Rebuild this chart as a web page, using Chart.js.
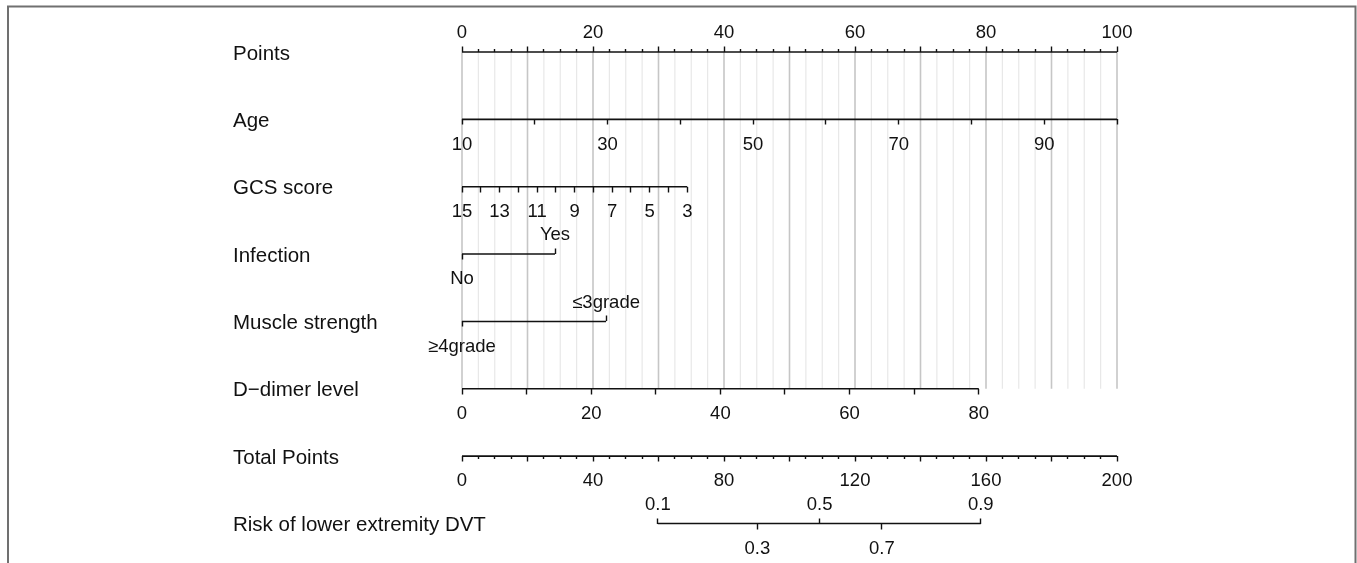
<!DOCTYPE html>
<html>
<head>
<meta charset="utf-8">
<script src="https://cdn.jsdelivr.net/npm/chart.js@4.4.1/dist/chart.umd.min.js"></script>
<style>
  html, body { margin: 0; padding: 0; background: #ffffff; }
  canvas { display: block; }
</style>
</head>
<body>
<canvas id="c" width="1357" height="563"></canvas>
<script>
// ---------------- data ----------------
const rowLabels = ['Points', 'Age', 'GCS score', 'Infection', 'Muscle strength',
                   'D\u2212dimer level', 'Total Points', 'Risk of lower extremity DVT'];

// Points (0-100)
const pointsMajorTicks = [0, 10, 20, 30, 40, 50, 60, 70, 80, 90, 100];
const pointsTickLabels = [0, 20, 40, 60, 80, 100];
const pointsMinorStep = 2.5;

// Age
const ageTicks = [10, 20, 30, 40, 50, 60, 70, 80, 90, 100];
const ageTickLabels = [10, 30, 50, 70, 90];
const ageEnds = [10, 100];
const agePointsEnds = [0, 100];

// GCS score
const gcsTicks = [15, 14, 13, 12, 11, 10, 9, 8, 7, 6, 5, 4, 3];
const gcsTickLabels = [15, 13, 11, 9, 7, 5, 3];
const gcsEnds = [15, 3];
const gcsPointsEnds = [0, 34.4];

// Infection
const infectionLevels = ['No', 'Yes'];
const infectionPoints = [0, 14.2];

// Muscle strength
const muscleLevels = ['\u22654grade', '\u22643grade'];
const musclePoints = [0, 22.0];

// D-dimer level
const ddimerTicks = [0, 10, 20, 30, 40, 50, 60, 70, 80];
const ddimerTickLabels = [0, 20, 40, 60, 80];
const ddimerEnds = [0, 80];
const ddimerPointsEnds = [0, 78.9];

// Total points
const totalMajorTicks = [0, 20, 40, 60, 80, 100, 120, 140, 160, 180, 200];
const totalTickLabels = [0, 40, 80, 120, 160, 200];
const totalMinorStep = 5;
const totalRange = [0, 200];

// Risk of lower extremity DVT (position read on the Total Points scale)
const riskValues = [0.1, 0.3, 0.5, 0.7, 0.9];
const riskTotalPoints = [59.8, 90.2, 109.2, 128.2, 158.4];

// ---------------- layout / style ----------------
const rowPos = [0, 1, 2, 3, 4, 5, 6, 7];
const INK = '#111111';
const FONT = "'Liberation Sans', Arial, Helvetica, sans-serif";
const TICK_FONT = { family: FONT, size: 18.5, lineHeight: 1 };
const LABEL_FONT = "20.5px 'Liberation Sans', Arial, Helvetica, sans-serif";
const LABEL_X = 233;
const LABEL_DY = 2;
const TL_MAJOR = 5.5, TL_MINOR = 3;
const PAD_DOWN = 10.5, PAD_UP = -22.75;

function spanFor(ends, pts) {
  const k = (pts[1] - pts[0]) / (ends[1] - ends[0]);
  const a = ends[0] + (0 - pts[0]) / k;
  const b = ends[0] + (100 - pts[0]) / k;
  return a < b ? { min: a, max: b, reverse: false } : { min: b, max: a, reverse: true };
}

function axis(row, span, tickValues, tickLength, pad, labelFn) {
  return {
    type: 'linear', axis: 'x',
    position: { y: rowPos[row] },
    min: span.min, max: span.max, reverse: !!span.reverse,
    bounds: 'data', offset: false,
    afterBuildTicks: (s) => { s.ticks = tickValues.map(v => ({ value: v })); },
    grid: { display: true, drawOnChartArea: false, drawTicks: true,
            tickLength: tickLength, tickColor: INK, tickWidth: 1.4, color: INK, z: 1 },
    border: { display: false },
    ticks: { display: true, autoSkip: false, maxRotation: 0, minRotation: 0,
             padding: pad, color: INK, font: TICK_FONT, z: 1,
             callback: labelFn || (() => '') }
  };
}

const pointsMinorTicks = [];
for (let v = 0; v <= 100; v += pointsMinorStep) if (v % 10 !== 0) pointsMinorTicks.push(v);
const totalMinorTicks = [];
for (let v = totalRange[0]; v <= totalRange[1]; v += totalMinorStep) if (v % 20 !== 0) totalMinorTicks.push(v);

const fullPoints = { min: 0, max: 100 };
const fullTotal = { min: totalRange[0], max: totalRange[1] };
const riskUpIdx = [0, 2, 4], riskDownIdx = [1, 3];

const scales = {
  x: { type: 'linear', min: 0, max: 100, display: false },
  y: { type: 'linear', min: 0, max: 7, reverse: true, display: false },
  xPoints: axis(0, fullPoints, pointsMajorTicks, -TL_MAJOR, PAD_UP,
                v => pointsTickLabels.includes(v) ? String(v) : ''),
  xPointsMinor: axis(0, fullPoints, pointsMinorTicks, -TL_MINOR, PAD_UP),
  xAge: axis(1, spanFor(ageEnds, agePointsEnds), ageTicks, TL_MAJOR, PAD_DOWN,
             v => ageTickLabels.includes(v) ? String(v) : ''),
  xGcs: axis(2, spanFor(gcsEnds, gcsPointsEnds), gcsTicks, TL_MAJOR, PAD_DOWN,
             v => gcsTickLabels.includes(v) ? String(v) : ''),
  xInfNo: axis(3, fullPoints, [infectionPoints[0]], TL_MAJOR, PAD_DOWN, () => infectionLevels[0]),
  xInfYes: axis(3, fullPoints, [infectionPoints[1]], -TL_MAJOR, PAD_UP, () => infectionLevels[1]),
  xMusLow: axis(4, fullPoints, [musclePoints[0]], TL_MAJOR, PAD_DOWN, () => muscleLevels[0]),
  xMusHigh: axis(4, fullPoints, [musclePoints[1]], -TL_MAJOR, PAD_UP, () => muscleLevels[1]),
  xDd: axis(5, spanFor(ddimerEnds, ddimerPointsEnds), ddimerTicks, TL_MAJOR, PAD_DOWN,
            v => ddimerTickLabels.includes(v) ? String(v) : ''),
  xTotal: axis(6, fullTotal, totalMajorTicks, TL_MAJOR, PAD_DOWN,
               v => totalTickLabels.includes(v) ? String(v) : ''),
  xTotalMinor: axis(6, fullTotal, totalMinorTicks, TL_MINOR, PAD_DOWN),
  xRiskUp: axis(7, fullTotal, riskUpIdx.map(i => riskTotalPoints[i]), -TL_MAJOR, PAD_UP,
                v => String(riskValues[riskTotalPoints.indexOf(v)])),
  xRiskDown: axis(7, fullTotal, riskDownIdx.map(i => riskTotalPoints[i]), TL_MAJOR, PAD_DOWN,
                  v => String(riskValues[riskTotalPoints.indexOf(v)]))
};

// ---------------- datasets ----------------
function seg(xAxisID, row, a, b, color, width, order) {
  return {
    xAxisID, yAxisID: 'y', order,
    data: [{ x: a, y: rowPos[row] }, { x: b, y: rowPos[row] }],
    borderColor: color, borderWidth: width, pointRadius: 0, pointHoverRadius: 0,
    fill: false, tension: 0, clip: false, borderCapStyle: 'butt'
  };
}
function vline(x, color, width) {
  return {
    xAxisID: 'x', yAxisID: 'y', order: 5,
    data: [{ x: x, y: rowPos[0] }, { x: x, y: rowPos[5] }],
    borderColor: color, borderWidth: width, pointRadius: 0, pointHoverRadius: 0,
    fill: false, tension: 0, clip: false, borderCapStyle: 'butt'
  };
}

const datasets = [];
const LINE_W = 1.6;
datasets.push(seg('xPoints', 0, 0, 100, INK, LINE_W, 1));
datasets.push(seg('xAge', 1, ageEnds[0], ageEnds[1], INK, LINE_W, 1));
datasets.push(seg('xGcs', 2, gcsEnds[0], gcsEnds[1], INK, LINE_W, 1));
datasets.push(seg('x', 3, infectionPoints[0], infectionPoints[1], INK, LINE_W, 1));
datasets.push(seg('x', 4, musclePoints[0], musclePoints[1], INK, LINE_W, 1));
datasets.push(seg('xDd', 5, ddimerEnds[0], ddimerEnds[1], INK, LINE_W, 1));
datasets.push(seg('xTotal', 6, totalRange[0], totalRange[1], INK, LINE_W, 1));
datasets.push(seg('xRiskUp', 7, riskTotalPoints[0], riskTotalPoints[riskTotalPoints.length - 1], INK, LINE_W, 1));
pointsMinorTicks.forEach(v => datasets.push(vline(v, '#e8e8e8', 1.2)));
pointsMajorTicks.forEach(v => datasets.push(vline(v, '#c6c6c6', 1.6)));

// ---------------- plugins ----------------
const framePlugin = {
  id: 'frame',
  beforeDraw(chart) {
    const ctx = chart.ctx;
    ctx.save();
    ctx.fillStyle = '#ffffff';
    ctx.fillRect(0, 0, chart.width, chart.height);
    ctx.strokeStyle = '#707070';
    ctx.lineWidth = 2;
    ctx.beginPath();
    ctx.moveTo(8, chart.height + 2);
    ctx.lineTo(8, 6.5);
    ctx.lineTo(chart.width - 1.5, 6.5);
    ctx.lineTo(chart.width - 1.5, chart.height + 2);
    ctx.stroke();
    ctx.restore();
  }
};
const rowLabelPlugin = {
  id: 'rowLabels',
  afterDraw(chart) {
    const ctx = chart.ctx, ys = chart.scales.y;
    ctx.save();
    ctx.font = LABEL_FONT;
    ctx.fillStyle = INK;
    ctx.textAlign = 'left';
    ctx.textBaseline = 'middle';
    rowLabels.forEach((t, i) => ctx.fillText(t, LABEL_X, ys.getPixelForValue(rowPos[i]) + LABEL_DY));
    ctx.restore();
  }
};

new Chart(document.getElementById('c'), {
  type: 'line',
  data: { datasets },
  options: {
    responsive: false,
    animation: false,
    devicePixelRatio: 1,
    events: [],
    layout: { padding: { left: 462, right: 240, top: 52, bottom: 39.5 } },
    plugins: { legend: { display: false }, tooltip: { enabled: false }, title: { display: false } },
    scales
  },
  plugins: [framePlugin, rowLabelPlugin]
});
</script>
</body>
</html>
